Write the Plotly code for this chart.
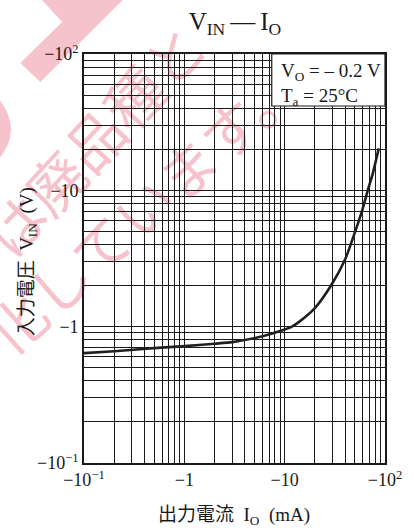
import plotly.graph_objects as go

# V_IN - I_O curve (magnitudes, both negative on the chart)
io_ma = [0.1, 0.2, 0.42, 1, 2, 3, 6, 8.7, 11.8, 13.8, 20, 29.4, 40, 50, 58.3, 67.9, 76, 86.6]
vin_v = [0.64, 0.66, 0.69, 0.72, 0.75, 0.77, 0.85, 0.92, 1.0, 1.08, 1.37, 2.04, 3.11, 4.89, 6.86, 10.2, 13.5, 20.3]

decades = [0.1, 1, 10, 100]
decade_labels = ["−10<sup>−1</sup>", "−1", "−10", "−10<sup>2</sup>"]

FONT = "Liberation Serif, Times New Roman, Noto Sans CJK JP"
PINK = "#f6c2cc"

# 1..9 grid inside each decade
grid_vals = []
for e in (-1, 0, 1):
    for m in range(1, 10):
        grid_vals.append(round(m * 10 ** e, 3))
grid_vals.append(100)
grid_text = []
for v in grid_vals:
    grid_text.append(decade_labels[decades.index(v)] if v in decades else "")

# plot area in pixels (used for paper coords of decorations)
L, R, T, B = 84, 387, 54, 463


def pp(x, y):
    return (x - L) / (R - L), (B - y) / (B - T)


fig = go.Figure()
fig.add_trace(
    go.Scatter(
        x=io_ma,
        y=vin_v,
        mode="lines",
        line={"color": "#231f20", "width": 2.6, "shape": "spline", "smoothing": 0.6},
        showlegend=False,
        hoverinfo="skip",
    )
)

axis_common = dict(
    type="log",
    tickmode="array",
    tickvals=grid_vals,
    ticktext=grid_text,
    showgrid=True,
    gridcolor="#1a1a1a",
    gridwidth=1,
    showline=True,
    linecolor="#1a1a1a",
    linewidth=1.6,
    mirror=True,
    ticks="",
    zeroline=False,
    tickfont={"family": FONT, "size": 18, "color": "#1a1a1a"},
)
fig.update_xaxes(range=[-1, 2], **axis_common)
fig.update_yaxes(range=[-1, 2], **axis_common)

# watermark (below grid)
wm_path = "M {} {} L {} {} L {} {} L {} {} L {} {} Z".format(
    *pp(40, -2), *pp(62, 22), *pp(20, 63), *pp(40, 82), *pp(125, -2)
)
fig.add_shape(type="path", xref="paper", yref="paper", path=wm_path,
              fillcolor=PINK, line={"width": 0}, layer="below")
bulge = "M {} {} Q {} {} {} {} Z".format(*pp(-1, 100), *pp(22, 130), *pp(-1, 158))
fig.add_shape(type="path", xref="paper", yref="paper", path=bulge,
              fillcolor=PINK, line={"width": 0}, layer="below")

for text, cx, cy, ang in [("は廃品種と", 100, 145, -47), ("化しています。", 148, 214, -42)]:
    x0, y0 = pp(cx - 2, cy + 2)
    x1, y1 = pp(cx + 2, cy - 2)
    fig.add_shape(
        type="rect", xref="paper", yref="paper", x0=x0, y0=y0, x1=x1, y1=y1,
        line={"width": 0}, fillcolor="rgba(0,0,0,0)", layer="below",
        label={"text": text, "textangle": ang, "textposition": "middle center",
               "font": {"family": "Noto Sans CJK JP", "size": 58, "color": PINK}},
    )

# condition box
bx0, by0 = pp(273, 106)
fig.add_shape(type="rect", xref="paper", yref="paper", x0=bx0, y0=by0, x1=1, y1=1,
              fillcolor="white", line={"color": "#1a1a1a", "width": 1.2}, layer="above")
fig.add_annotation(
    xref="paper", yref="paper", x=pp(280, 0)[0], y=1, xanchor="left", yanchor="top",
    text="V<sub>O</sub> = – 0.2 V<br>T<sub>a</sub> = 25°C", align="left",
    showarrow=False, yshift=-4,
    font={"family": FONT, "size": 19, "color": "#1a1a1a"},
)

# axis titles
tx, ty = pp(235, 516)
fig.add_annotation(
    xref="paper", yref="paper", x=tx, y=ty, showarrow=False,
    xanchor="center", yanchor="middle",
    text="出力電流\u00a0\u00a0I<sub>O</sub>\u00a0\u00a0(mA)",
    font={"family": FONT, "size": 19, "color": "#1a1a1a"},
)
yx, yy = pp(28, 262)
fig.add_annotation(
    xref="paper", yref="paper", x=yx, y=yy, showarrow=False, textangle=-90,
    xanchor="center", yanchor="middle",
    text="入力電圧\u00a0\u00a0V<sub>IN</sub>\u00a0\u00a0(V)",
    font={"family": FONT, "size": 19, "color": "#1a1a1a"},
)

fig.update_layout(
    width=414,
    height=528,
    margin={"l": L, "r": 414 - R, "t": T, "b": 528 - B},
    paper_bgcolor="white",
    plot_bgcolor="white",
    title={
        "text": "V<sub>IN</sub>\u2009—\u2009I<sub>O</sub>",
        "x": 235 / 414,
        "xanchor": "center",
        "y": 1 - 21 / 528,
        "yanchor": "middle",
        "font": {"family": FONT, "size": 25, "color": "#1a1a1a"},
    },
)

fig.write_html(
    "out.html",
    config={"displayModeBar": False},
    post_script="document.body.style.margin='0';document.body.style.overflow='hidden';",
)
